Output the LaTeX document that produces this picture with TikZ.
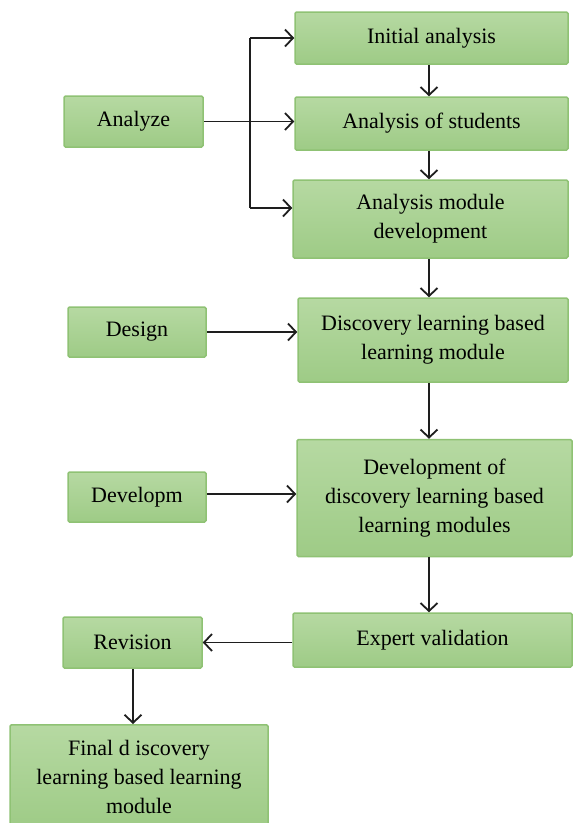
\documentclass[tikz,border=0pt]{standalone}
\usepackage{fontspec}
\setmainfont{Liberation Serif}
\usetikzlibrary{arrows.meta,calc}
\definecolor{boxtop}{HTML}{B6D9A2}
\definecolor{boxbot}{HTML}{9ECB86}
\definecolor{boxline}{HTML}{8FC274}
\definecolor{arr}{HTML}{1E1E1E}
\tikzset{
  box/.style={draw=boxline, line width=1.5pt, top color=boxtop, bottom color=boxbot,
    rounded corners=1.5pt, align=center, inner sep=2pt,
    font=\fontsize{22}{29}\selectfont, text=black},
  link/.style={draw=arr, line width=1.8pt, -{Straight Barb[length=8pt,width=17pt,line width=1.8pt]}},
  plain/.style={draw=arr, line width=1.8pt}
}
\begin{document}
\begin{tikzpicture}[x=1pt,y=-1pt]
\useasboundingbox (0,0) rectangle (576,823);
\clip (0,0) rectangle (576,823);
% right column
\node[box, minimum width=273pt, minimum height=52pt] (init) at (431.5,38) {Initial analysis};
\node[box, minimum width=273pt, minimum height=53pt] (stud) at (431.5,123.5) {Analysis of students};
\node[box, minimum width=275pt, minimum height=78pt] (amd) at (430.5,219) {Analysis module\\development};
\node[box, minimum width=270pt, minimum height=84pt] (dlb) at (433,340) {Discovery learning based\\learning module};
\node[box, minimum width=275pt, minimum height=117pt] (dev) at (434.5,498) {Development of\\discovery learning based\\learning modules};
\node[box, minimum width=279pt, minimum height=54pt] (exp) at (432.5,640) {Expert validation};
% left column
\node[box, minimum width=139pt, minimum height=51pt] (analyze) at (133.5,121.5) {Analyze};
\node[box, minimum width=138pt, minimum height=50pt] (design) at (137,332) {Design};
\node[box, minimum width=138pt, minimum height=50pt] (developm) at (137,497) {Developm};
\node[box, minimum width=139pt, minimum height=51pt] (revision) at (132.5,642.5) {Revision};
\node[box, minimum width=258pt, minimum height=104pt, anchor=north] (final) at (139,724) {Final d iscovery\\learning based learning\\module};
% branch from Analyze
\coordinate (bt) at (250,38);
\coordinate (bb) at (250,208);
\draw[plain] (bt) -- (bb);
\draw[link] (bt) -- (bt -| init.west);
\draw[link] (bb) -- (bb -| amd.west);
\draw[link] (analyze.east) -- (analyze.east -| stud.west);
% vertical chain
\draw[link] ($(init.south)+(-2.5,0)$) -- ($(init.south |- stud.north)+(-2.5,0)$);
\draw[link] ($(stud.south)+(-2.5,0)$) -- ($(stud.south |- amd.north)+(-2.5,0)$);
\draw[link] ($(amd.south)+(-1.5,0)$) -- ($(amd.south |- dlb.north)+(-1.5,0)$);
\draw[link] ($(dlb.south)+(-4,0)$) -- ($(dlb.south |- dev.north)+(-4,0)$);
\draw[link] ($(dev.south)+(-5.5,0)$) -- ($(dev.south |- exp.north)+(-5.5,0)$);
% side inputs
\draw[link] (design.east) -- (design.east -| dlb.west);
\draw[link] ($(developm.east)+(0,-3)$) -- ($(developm.east -| dev.west)+(0,-3)$);
\draw[link] (exp.west |- revision.east) -- (revision.east);
\draw[link] ($(revision.south)+(0.5,0)$) -- ($(revision.south |- final.north)+(0.5,0)$);
\end{tikzpicture}
\end{document}
